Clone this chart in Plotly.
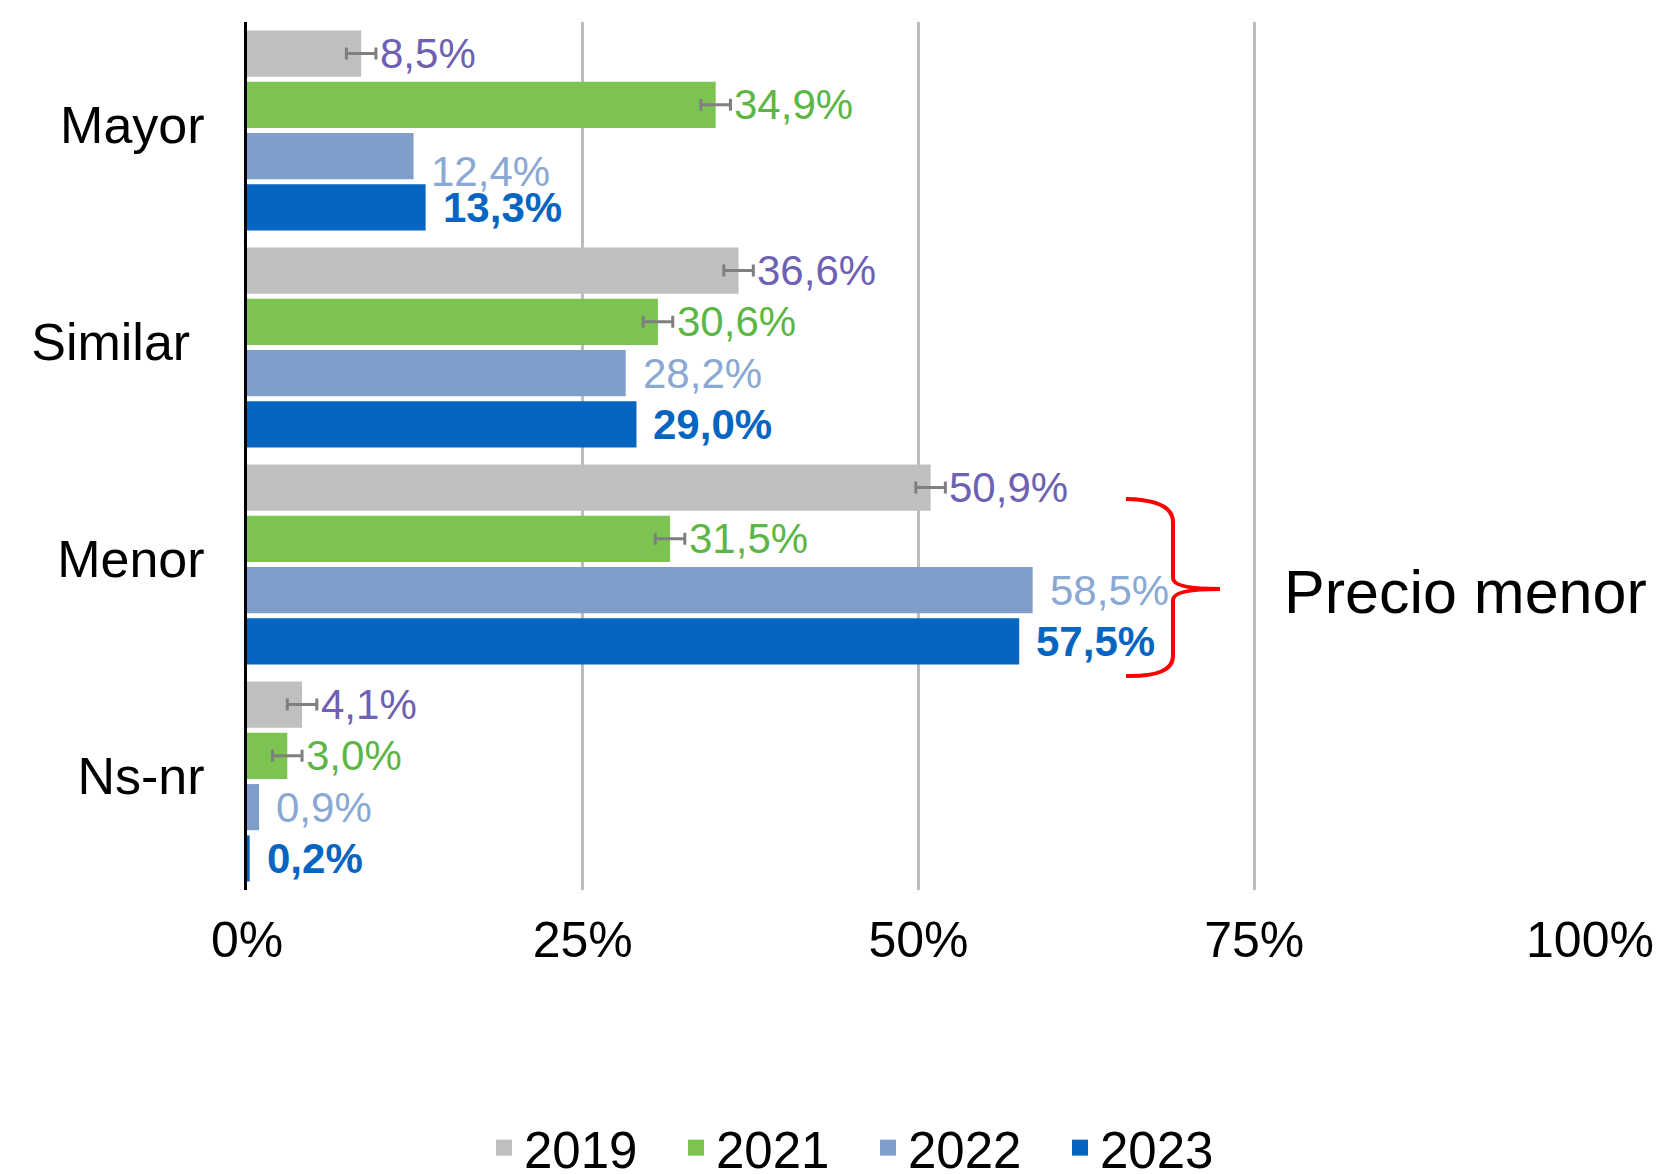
import plotly.graph_objects as go

categories = ["Mayor", "Similar", "Menor", "Ns-nr"]
tick_text = ["Mayor", "Similar\u00a0", "Menor", "Ns-nr"]
years = ["2019", "2021", "2022", "2023"]

v2019 = [8.5, 36.6, 50.9, 4.1]
v2021 = [34.9, 30.6, 31.5, 3.0]
v2022 = [12.4, 28.2, 58.5, 0.9]
v2023 = [13.3, 29.0, 57.5, 0.2]

err2019 = [1.1, 1.1, 1.1, 1.1]
err2021 = [1.1, 1.1, 1.1, 1.1]
err2022 = [0, 0, 0, 0]
err2023 = [0, 0, 0, 0]

x_ticks = [0, 25, 50, 75, 100]
x_tick_text = ["0%", "25%", "50%", "75%", "100%"]

series = [
    ("2019", v2019, err2019, "#BFBFBF", "#6E60B2", False),
    ("2021", v2021, err2021, "#7DC352", "#5CB646", False),
    ("2022", v2022, err2022, "#7F9FCA", "#8AA8D4", False),
    ("2023", v2023, err2023, "#0565C0", "#0565C0", True),
]

OFF = 8  # page body margin
W, H = 1665 - OFF, 1174 - OFF
L, R, T, B = 247 - OFF, 75, 22 - OFF, 284
FONT = "Liberation Sans, Arial, sans-serif"
bargap = 0.055


def px(x, y):
    # page pixel -> paper coords
    xf, yf = x - OFF, y - OFF
    return (xf - L) / (W - L - R), 1 - (yf - T) / (H - T - B)


fig = go.Figure()
for name, vals, errs, col, lcol, bold in series:
    has_err = any(e > 0 for e in errs)
    fig.add_trace(go.Bar(
        y=categories, x=vals, name=name, orientation="h",
        marker=dict(color=col, line=dict(width=0)),
        error_x=dict(type="data", array=errs, visible=has_err,
                     color="#7F7F7F", thickness=3, width=6),
        hoverinfo="skip", showlegend=False,
    ))
# legend entries with larger square swatches
for name, vals, errs, col, lcol, bold in series:
    fig.add_trace(go.Scatter(
        x=[None], y=[None], mode="markers", name=name,
        marker=dict(symbol="square", size=24, color=col),
    ))

# data labels
slot = (1 - bargap) / 4
annotations = []
for k, (name, vals, errs, col, lcol, bold) in enumerate(series):
    for i, cat in enumerate(categories):
        yc = i - (1 - bargap) / 2 + (k + 0.5) * slot
        shift = 2 if errs[i] > 0 else 15
        yshift = -15 if (cat == "Mayor" and name == "2022") else 0
        txt = f"{vals[i]:.1f}".replace(".", ",") + "%"
        if bold:
            txt = "<b>" + txt + "</b>"
        annotations.append(dict(
            x=vals[i] + errs[i], y=yc, xref="x", yref="y", text=txt,
            showarrow=False, xanchor="left", yanchor="middle",
            xshift=shift, yshift=yshift,
            font=dict(family=FONT, size=42, color=lcol),
        ))

tx, ty = px(1282, 592)
annotations.append(dict(
    x=tx, y=ty, xref="paper", yref="paper", text="Precio menor",
    showarrow=False, xanchor="left", yanchor="middle",
    font=dict(family=FONT, size=61, color="black"),
))

pts = [(1126, 499), (1173, 500), (1173, 522), (1173, 578), (1173, 589),
       (1220, 589), (1173, 589), (1173, 600), (1173, 656), (1173, 677),
       (1126, 676)]
p = [px(a, b) for a, b in pts]
path = (f"M {p[0][0]},{p[0][1]} Q {p[1][0]},{p[1][1]} {p[2][0]},{p[2][1]} "
        f"L {p[3][0]},{p[3][1]} Q {p[4][0]},{p[4][1]} {p[5][0]},{p[5][1]} "
        f"Q {p[6][0]},{p[6][1]} {p[7][0]},{p[7][1]} "
        f"L {p[8][0]},{p[8][1]} Q {p[9][0]},{p[9][1]} {p[10][0]},{p[10][1]}")

lx, ly = px(484, 1148)
fig.update_layout(
    width=W, height=H,
    margin=dict(l=L, r=R, t=T, b=B, autoexpand=False),
    paper_bgcolor="white", plot_bgcolor="white",
    barmode="group", bargap=bargap, bargroupgap=0.1,
    font=dict(family=FONT, color="black"),
    xaxis=dict(range=[0, 100], tickvals=x_ticks, ticktext=x_tick_text,
               showgrid=True, gridcolor="#BDBDBD", gridwidth=2.5,
               zeroline=False, showline=False, ticks="",
               tickfont=dict(size=50), ticklabelstandoff=16, fixedrange=True),
    yaxis=dict(type="category", autorange="reversed",
               tickvals=categories, ticktext=tick_text,
               showgrid=False, zeroline=False, showline=True,
               linecolor="black", linewidth=3, ticks="",
               tickfont=dict(size=52), ticklabelstandoff=29,
               ticklabelshift=6),
    legend=dict(orientation="h", x=lx, y=ly, xanchor="left",
                yanchor="middle", font=dict(size=51), traceorder="normal",
                itemwidth=30, entrywidth=147, entrywidthmode="pixels"),
    annotations=annotations,
    shapes=[dict(type="path", path=path, xref="paper", yref="paper",
                 line=dict(color="#FF0000", width=4))],
)

fig.write_html("out.html")
